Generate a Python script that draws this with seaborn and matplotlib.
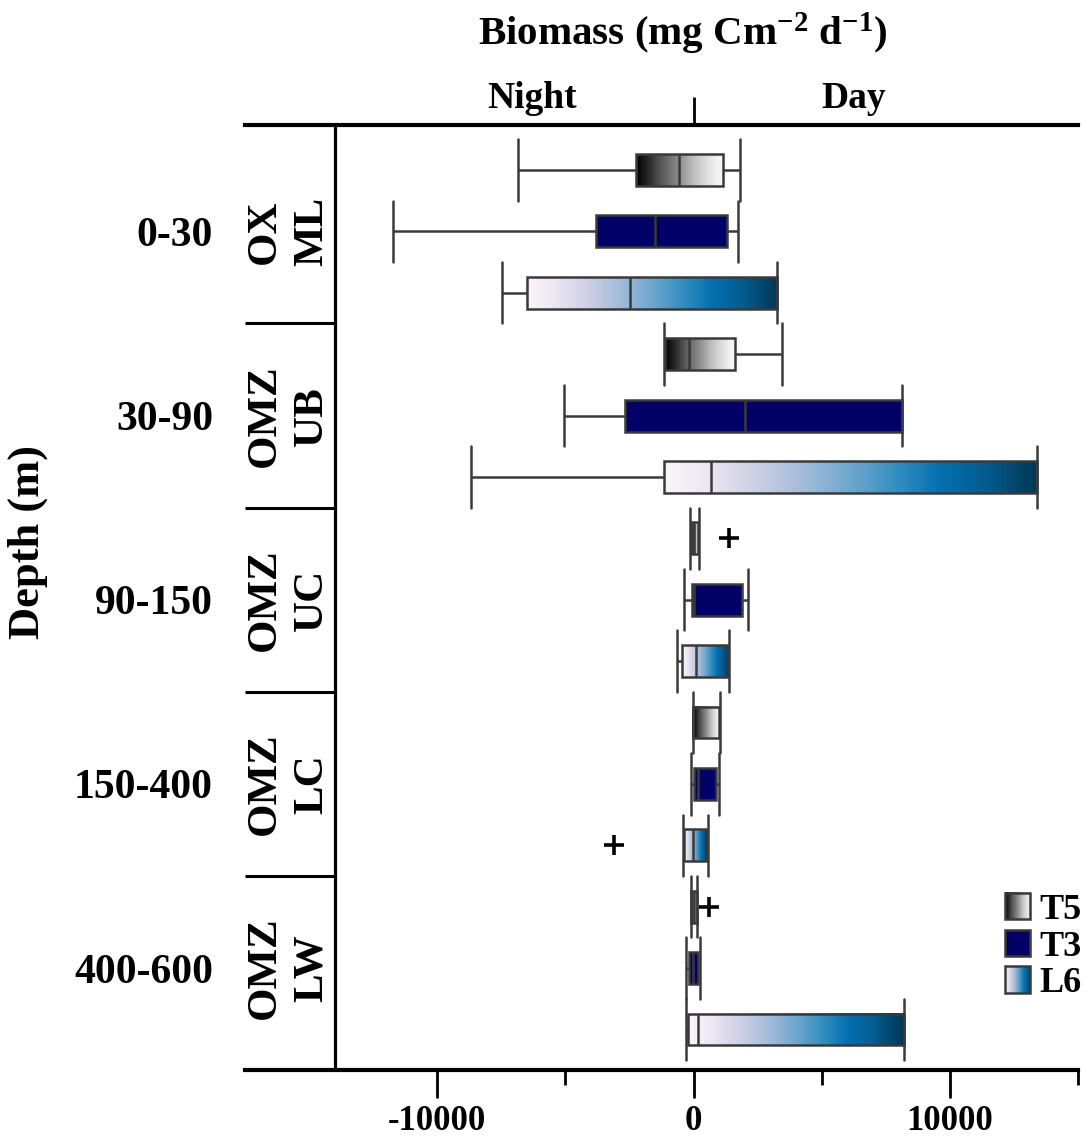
import numpy as np
import pandas as pd
import matplotlib

matplotlib.use("Agg")

import matplotlib.pyplot as plt  # noqa: E402
import seaborn as sns  # noqa: E402
from matplotlib.colors import ListedColormap  # noqa: E402
from matplotlib.image import BboxImage  # noqa: E402
from matplotlib.legend_handler import HandlerBase  # noqa: E402
from matplotlib.patches import Patch, Rectangle  # noqa: E402
from matplotlib.transforms import Bbox, TransformedBbox  # noqa: E402

# --- data (five-number summaries: low whisker, Q1, median, Q3, high whisker)
layers = ["0-30", "30-90", "90-150", "150-400", "400-600"]
zones = ["OX\nML", "OMZ\nUB", "OMZ\nUC", "OMZ\nLC", "OMZ\nLW"]
series = ["T5", "T3", "L6"]

t5_stats = [
    [-6850, -2235, -560, 1130, 1830],
    [-1170, -1095, -195, 1600, 3440],
    [-150, -115, 10, 185, 220],
    [-25, -25, -10, 990, 1030],
    [-110, -100, 10, 125, 135],
]
t3_stats = [
    [-11740, -3815, -1520, 1315, 1720],
    [-5040, -2690, 2000, 8150, 8150],
    [-390, -60, 10, 1890, 2120],
    [-80, 15, 155, 860, 1000],
    [-285, -185, -40, 165, 235],
]
l6_stats = [
    [-7490, -6500, -2460, 3240, 3240],
    [-8700, -1145, 700, 13400, 13400],
    [-650, -455, 105, 1355, 1380],
    [-420, -380, -25, 510, 560],
    [-285, -207, 170, 8200, 8200],
]

out_layer = ["90-150", "150-400", "400-600"]
out_series = ["T5", "L6", "T5"]
out_value = [1400, -3110, 620]

x_ticks = [-10000, 0, 10000]
x_ticklabels = ["-10000", "0", "10000"]
x_minor = [-5000, 5000, 15000]

# --- styling
INK = "black"
EDGE = "#3a3a3a"
NAVY = "#000066"
cmap_t5 = ListedColormap(plt.get_cmap("Greys_r")(np.linspace(0.0, 0.95, 256)))
cmap_l6 = ListedColormap(plt.get_cmap("PuBu")(np.linspace(0.02, 1.0, 256)))
GRAD = np.linspace(0, 1, 256).reshape(1, -1)

sns.set_style("white")
plt.rcParams["font.family"] = ["Liberation Serif", "DejaVu Serif"]
plt.rcParams["font.weight"] = "bold"
plt.rcParams["mathtext.fontset"] = "custom"
plt.rcParams["mathtext.rm"] = "Liberation Serif:bold"
plt.rcParams["mathtext.default"] = "rm"
for key in ["text.color", "axes.labelcolor", "xtick.color", "ytick.color"]:
    plt.rcParams[key] = INK


class GradientHandler(HandlerBase):
    """Legend key filled with a horizontal colour gradient."""

    def __init__(self, cmap):
        super().__init__()
        self.cmap = cmap

    def create_artists(self, legend, orig_handle, xdescent, ydescent,
                       width, height, fontsize, trans):
        bb = Bbox.from_bounds(-xdescent, -ydescent, width, height)
        img = BboxImage(TransformedBbox(bb, trans), cmap=self.cmap,
                        interpolation="bicubic", origin="lower")
        img.set_data(GRAD)
        rect = Rectangle((-xdescent, -ydescent), width, height,
                         facecolor="none", edgecolor=EDGE, linewidth=1.8,
                         transform=trans)
        return [img, rect]


# long table: one row per value, slot = position from the top
rows = []
for name, stats in zip(series, [t5_stats, t3_stats, l6_stats]):
    for li, vals in enumerate(stats):
        slot = li * 3 + series.index(name)
        for v in vals:
            rows.append({"slot": slot, "value": v, "series": name})
df = pd.DataFrame(rows)

out_df = pd.DataFrame({
    "slot": [layers.index(l) * 3 + series.index(s) for l, s in zip(out_layer, out_series)],
    "value": out_value,
})

fig = plt.figure(figsize=(10.87, 11.47), dpi=100)
ax = fig.add_axes([245 / 1087, 1 - 1070 / 1147, 833 / 1087, 945 / 1147])

sns.boxplot(
    data=df, x="value", y="slot", hue="series", orient="h",
    native_scale=True, dodge=False, width=0.52, whis=np.inf,
    palette={"T5": "#888888", "T3": NAVY, "L6": "#74a9cf"},
    saturation=1, linecolor=EDGE, linewidth=1.8, capwidths=1.0,
    legend=False, ax=ax,
)

# gradient fills for T5 and L6 boxes
gradients = {"T5": cmap_t5, "L6": cmap_l6}
for patch in list(ax.patches):
    verts = patch.get_path().vertices
    x0, x1 = verts[:, 0].min(), verts[:, 0].max()
    y0, y1 = verts[:, 1].min(), verts[:, 1].max()
    name = series[int(round((y0 + y1) / 2)) % 3]
    if name in gradients:
        patch.set_facecolor("none")
        ax.imshow(GRAD, cmap=gradients[name], extent=(x0, x1, y1, y0),
                  aspect="auto", interpolation="bicubic",
                  zorder=patch.get_zorder() - 0.05)

sns.scatterplot(data=out_df, x="value", y="slot", marker="+", s=190,
                color=INK, linewidth=2.6, zorder=5, ax=ax)

# frame: left column for zone names
ax.axvline(-14000, color=INK, lw=2.3)
ax.hlines([2.5, 5.5, 8.5, 11.5], -17500, -14000, color=INK, lw=2.2)
for li, zone in enumerate(zones):
    ax.text(-15800, li * 3 + 1, zone, rotation=90, ha="center", va="center",
            fontsize=31, fontweight="bold", linespacing=1.3)

ax.set_xlim(-17500, 15000)
ax.set_ylim(14.66, -0.733)
for side in ["left", "right"]:
    ax.spines[side].set_visible(False)
for side in ["top", "bottom"]:
    ax.spines[side].set_linewidth(3)
    ax.spines[side].set_color(INK)

ax.set_xticks(x_ticks)
ax.set_xticklabels(x_ticklabels, fontsize=25, fontweight="bold")
ax.set_xticks(x_minor, minor=True)
ax.tick_params(axis="x", which="major", length=20, width=2, color=INK, pad=5,
               bottom=True)
ax.tick_params(axis="x", which="minor", length=11, width=2, color=INK, bottom=True)
ax.set_yticks([li * 3 + 1 for li in range(len(layers))])
ax.set_yticklabels(layers, fontsize=30, fontweight="bold")
ax.tick_params(axis="y", length=0, pad=23)
ax.set_xlabel("")
ax.set_ylabel("Depth (m)", fontsize=32, fontweight="bold")
ax.yaxis.set_label_coords(-0.236, 0.559)

# zero mark and Night / Day above the frame
top = ax.secondary_xaxis("top")
top.set_xticks([0])
top.set_xticklabels([])
top.tick_params(length=20, width=2, color=INK)
top.spines["top"].set_visible(False)
ax.text(-6300, 1.018, "Night", transform=ax.get_xaxis_transform(),
        ha="center", va="baseline", fontsize=27, fontweight="bold")
ax.text(6250, 1.018, "Day", transform=ax.get_xaxis_transform(),
        ha="center", va="baseline", fontsize=27, fontweight="bold")
fig.text(683 / 1087, 1 - 45 / 1147, r"Biomass (mg Cm$^{-2}$ d$^{-1}$)",
         ha="center", va="baseline", fontsize=29.5, fontweight="bold")

# legend
h_t5 = Patch(label="T5")
h_t3 = Patch(facecolor=NAVY, edgecolor=EDGE, linewidth=1.8, label="T3")
h_l6 = Patch(label="L6")
ax.legend(
    handles=[h_t5, h_t3, h_l6],
    handler_map={h_t5: GradientHandler(cmap_t5), h_l6: GradientHandler(cmap_l6)},
    loc="upper left", bbox_to_anchor=((1005 - 245) / 833, (1070 - 893) / 945),
    frameon=False, handlelength=0.7, handleheight=0.75,
    handletextpad=0.25, labelspacing=0.08, borderpad=0, borderaxespad=0,
    prop={"weight": "bold", "size": 26},
)

fig.savefig("out.png", dpi=100)
plt.close(fig)
